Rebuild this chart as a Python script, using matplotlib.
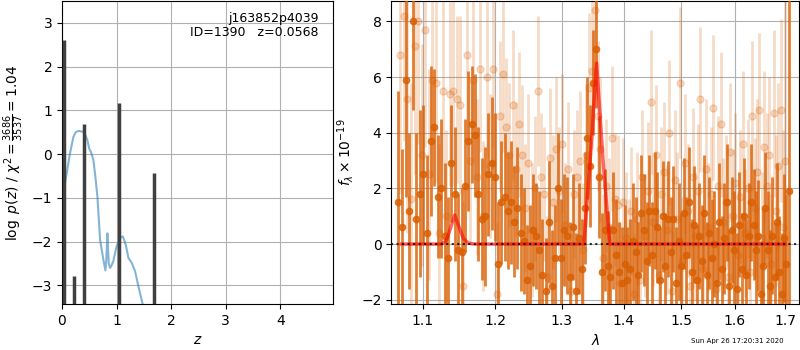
import numpy as np
import matplotlib
matplotlib.use("Agg")
import matplotlib.pyplot as plt
from matplotlib.ticker import ScalarFormatter, NullLocator

# ---- left panel: log p(z) ----
z_grid = [0.0, 0.02, 0.05, 0.086, 0.147, 0.208, 0.25, 0.30, 0.35, 0.39, 0.43,
          0.465, 0.50, 0.527, 0.575, 0.61, 0.649, 0.698, 0.73, 0.759, 0.796,
          0.81, 0.82, 0.832, 0.845, 0.857, 0.88, 0.899, 0.94, 1.0, 1.052,
          1.08, 1.114, 1.15, 1.175, 1.217, 1.279, 1.34, 1.40, 1.48]
logpz = [-1.7, -1.0, -0.7, -0.44, 0.02, 0.39, 0.50, 0.53, 0.52, 0.51, 0.43,
         0.32, 0.12, 0.06, -0.13, -0.5, -0.97, -1.96, -2.2, -2.42, -2.66,
         -2.45, -2.2, -1.81, -2.2, -2.5, -2.6, -2.57, -2.45, -2.11, -1.96,
         -1.9, -1.88, -2.0, -2.11, -2.37, -2.49, -2.68, -3.02, -3.44]

peak_z = [0.037, 0.226, 0.41, 1.052, 1.694]
peak_logp = [2.6, -2.79, 0.69, 1.18, -0.44]

# ---- right panel: spectrum ----
wave_a = [1.0680, 1.0727, 1.0774, 1.0821, 1.0868, 1.0915, 1.0962, 1.1009, 1.1056, 1.1103,
          1.1150, 1.1197, 1.1244, 1.1291, 1.1338, 1.1385, 1.1432, 1.1479, 1.1526, 1.1573,
          1.1620, 1.1667, 1.1714, 1.1761, 1.1808, 1.1855, 1.1902, 1.1949, 1.1996, 1.2043,
          1.2090, 1.2137, 1.2184, 1.2231, 1.2278, 1.2325, 1.2372, 1.2419, 1.2466, 1.2513,
          1.2560, 1.2607, 1.2654, 1.2701, 1.2748, 1.2795, 1.2842, 1.2889, 1.2936, 1.2983,
          1.3030, 1.3077, 1.3124, 1.3171, 1.3218, 1.3265, 1.3312, 1.3359, 1.3406, 1.3453,
          1.3500, 1.3547, 1.3594, 1.3641, 1.3688, 1.3735, 1.3782, 1.3829, 1.3876, 1.3923,
          1.3970, 1.4017, 1.4064, 1.4111, 1.4158, 1.4205, 1.4252, 1.4299, 1.4346, 1.4393,
          1.4440, 1.4487, 1.4534, 1.4581, 1.4628, 1.4675, 1.4722, 1.4769, 1.4816, 1.4863,
          1.4910, 1.4957, 1.5004, 1.5051, 1.5098, 1.5145, 1.5192, 1.5239, 1.5286, 1.5333,
          1.5380, 1.5427, 1.5474, 1.5521, 1.5568, 1.5615, 1.5662, 1.5709, 1.5756, 1.5803,
          1.5850, 1.5897, 1.5944, 1.5991, 1.6038, 1.6085, 1.6132, 1.6179, 1.6226, 1.6273,
          1.6320, 1.6367, 1.6414, 1.6461, 1.6508, 1.6555, 1.6602, 1.6649, 1.6696, 1.6743,
          1.6790, 1.6837, 1.6884, 1.6931, 1.6978, 1.7025, 1.7072]
flux_a = [1.5, 0.6, 5.9, 1.2, 8.0, 0.9, 1.8, 2.5, 0.4, 3.7,
          4.2, 1.7, 2.0, 0.3, -0.5, 2.9, 1.8, -0.2, -0.3, 2.1,
          3.7, 4.3, 3.9, 1.8, 0.9, 1.0, 2.5, 2.9, 2.4, -0.7,
          1.5, 1.7, 1.2, 1.5, 0.8, 1.3, 0.4, 0.1, -1.3, -0.8,
          0.5, 0.3, -0.2, -1.1, -1.7, 0.8, -1.5, -0.5, 2.0, -0.5,
          0.5, 0.3, -1.2, 0.6, -1.7, 0.2, -0.9, 1.3, 3.8, 2.8,
          5.8, 7.0, 2.4, -1.0, 0.5, -0.8, -1.2, 0.5, -0.4, -1.0,
          -1.4, -0.7, -1.3, -0.9, 0.1, -0.3, -1.1, 1.1, 0.5, -0.6,
          1.2, -0.4, 1.2, 0.6, -1.3, 1.0, -0.8, 0.9, -0.3, 0.9,
          -1.4, 0.1, -0.8, 1.1, -0.4, 1.5, -1.0, 0.7, -1.3, 0.3,
          -0.6, 1.1, -1.1, 0.4, -0.5, 0.0, -1.4, 0.8, -0.9, 0.2,
          1.5, -1.5, 0.5, -0.2, -1.6, 0.7, -0.9, 1.0, -1.1, 0.3,
          1.5, 0.7, -0.2, 0.3, -1.8, -0.8, 1.3, -0.2, -1.5, 0.3,
          -1.2, 0.8, -1.0, -1.8, 0.2, -0.7, 1.9]
err_a = [4.0, 2.8, 4.2, 2.8, 3.2, 3.1, 3.0, 2.5, 2.8, 2.7,
         2.1, 2.2, 2.5, 2.6, 2.2, 2.1, 2.4, 2.0, 2.3, 2.4,
         2.5, 2.1, 2.2, 2.4, 2.2, 2.5, 2.2, 2.4, 2.3, 2.2,
         2.2, 2.3, 2.1, 2.2, 2.0, 2.2, 2.1, 1.9, 2.0, 2.2,
         2.0, 1.9, 2.1, 2.0, 1.9, 2.2, 2.0, 1.9, 2.0, 2.1,
         2.0, 2.1, 2.0, 1.9, 2.1, 2.0, 1.8, 2.0, 2.2, 2.2,
         1.9, 2.1, 2.2, 2.1, 2.2, 2.0, 1.9, 2.1, 2.0, 1.8,
         2.0, 2.1, 1.9, 1.8, 2.1, 2.0, 1.9, 2.1, 2.0, 2.1,
         2.0, 1.9, 2.1, 2.0, 1.9, 2.0, 1.9, 2.1, 2.0, 1.9,
         2.0, 2.1, 1.9, 2.0, 2.1, 2.0, 1.9, 2.1, 2.0, 1.9,
         2.0, 2.1, 1.9, 2.0, 2.1, 1.9, 2.0, 2.1, 1.9, 2.0,
         2.1, 2.0, 1.9, 2.1, 2.0, 1.9, 2.0, 2.1, 2.0, 1.9,
         2.1, 2.0, 2.1, 2.0, 1.9, 2.1, 2.0, 2.1, 2.0, 2.1,
         2.0, 2.1, 2.0, 2.2, 2.3, 2.5, 9.0]

wave_b = [1.0703, 1.0750, 1.0797, 1.0844, 1.0891, 1.0938, 1.0985, 1.1032, 1.1079, 1.1126,
          1.1173, 1.1220, 1.1267, 1.1314, 1.1361, 1.1408, 1.1455, 1.1502, 1.1549, 1.1596,
          1.1643, 1.1690, 1.1737, 1.1784, 1.1831, 1.1878, 1.1925, 1.1972, 1.2019, 1.2066,
          1.2113, 1.2160, 1.2207, 1.2254, 1.2301, 1.2348, 1.2395, 1.2442, 1.2489, 1.2536,
          1.2583, 1.2630, 1.2677, 1.2724, 1.2771, 1.2818, 1.2865, 1.2912, 1.2959, 1.3006,
          1.3053, 1.3100, 1.3147, 1.3194, 1.3241, 1.3288, 1.3335, 1.3382, 1.3429, 1.3476,
          1.3523, 1.3570, 1.3617, 1.3664, 1.3711, 1.3758, 1.3805, 1.3852, 1.3899, 1.3946,
          1.3993, 1.4040, 1.4087, 1.4134, 1.4181, 1.4228, 1.4275, 1.4322, 1.4369, 1.4416,
          1.4463, 1.4510, 1.4557, 1.4604, 1.4651, 1.4698, 1.4745, 1.4792, 1.4839, 1.4886,
          1.4933, 1.4980, 1.5027, 1.5074, 1.5121, 1.5168, 1.5215, 1.5262, 1.5309, 1.5356,
          1.5403, 1.5450, 1.5497, 1.5544, 1.5591, 1.5638, 1.5685, 1.5732, 1.5779, 1.5826,
          1.5873, 1.5920, 1.5967, 1.6014, 1.6061, 1.6108, 1.6155, 1.6202, 1.6249, 1.6296,
          1.6343, 1.6390, 1.6437, 1.6484, 1.6531, 1.6578, 1.6625, 1.6672, 1.6719, 1.6766,
          1.6813, 1.6860, 1.6907, 1.6954, 1.7001]
flux_b = [6.8, 8.2, 5.2, 1.6, 7.1, 8.0, 3.2, 7.7, 2.5, 5.9,
          5.8, 0.4, 5.5, 1.0, 5.4, 5.5, 5.2, 5.0, -1.5, 6.8,
          3.0, 5.9, 2.4, 6.3, 1.0, 6.0, 2.8, 6.3, -1.8, 4.6,
          6.1, 4.2, 3.2, 5.0, 2.7, 4.3, 3.2, 1.3, 2.9, 0.5,
          2.0, 5.5, 2.4, 1.8, -1.2, 3.1, 1.5, 3.4, 1.9, 3.6,
          0.7, 2.7, -1.7, 1.8, 2.4, 3.0, -0.2, 3.2, 5.6, 6.2,
          8.4, 4.6, 3.4, -0.5, 2.1, 0.6, 3.8, 1.6, 1.4, -1.4,
          1.5, 0.2, -0.9, 1.2, -1.8, 0.9, -1.3, 2.4, 0.3, 1.9,
          5.1, 0.8, 3.2, -1.1, 1.8, 2.6, 0.5, 4.0, -1.7, 2.3,
          0.9, 5.8, -0.6, 2.9, 1.2, -1.5, 2.4, 0.3, 1.9, 5.2,
          -0.9, 2.7, 0.6, 1.8, 4.9, -1.6, 2.1, 4.3, 0.8, 1.5,
          -1.2, 3.3, 1.0, 2.2, -0.4, 1.7, 3.6, 0.4, 2.0, -1.0,
          4.6, 1.3, 2.6, 4.8, 0.2, 3.5, 2.1, 3.2, -0.7, 4.7,
          1.2, 2.8, 4.8, 0.6, 3.0]
err_b = [5.0, 4.5, 4.8, 4.2, 4.6, 4.4, 4.0, 4.2, 3.8, 3.5,
         3.6, 3.2, 3.4, 3.1, 3.3, 3.4, 3.0, 3.2, 3.0, 3.1,
         3.0, 2.9, 2.8, 3.0, 2.7, 2.9, 2.6, 2.8, 2.6, 2.7,
         2.8, 2.5, 2.6, 2.7, 2.4, 2.6, 2.5, 2.3, 2.5, 2.4,
         2.6, 2.7, 2.3, 2.4, 2.2, 2.5, 2.4, 2.6, 2.3, 2.5,
         2.2, 2.4, 2.1, 2.3, 2.4, 2.5, 2.4, 2.6, 2.7, 2.8,
         2.6, 2.7, 2.6, 2.3, 2.4, 2.5, 2.6, 2.4, 2.5, 2.2,
         2.3, 2.4, 2.5, 2.3, 2.2, 2.4, 2.3, 2.4, 2.2, 2.5,
         2.6, 2.3, 2.5, 2.2, 2.4, 2.5, 2.3, 2.6, 2.2, 2.5,
         2.4, 2.7, 2.3, 2.5, 2.4, 2.3, 2.5, 2.3, 2.4, 2.6,
         2.2, 2.5, 2.3, 2.4, 2.6, 2.2, 2.5, 2.6, 2.3, 2.4,
         2.3, 2.5, 2.4, 2.5, 2.3, 2.4, 2.6, 2.3, 2.5, 2.4,
         2.7, 2.5, 2.6, 2.8, 2.4, 2.7, 2.6, 2.8, 2.5, 3.0,
         2.7, 3.0, 3.3, 3.5, 8.0]

model_wave = [1.072, 1.125, 1.131, 1.137, 1.143, 1.149, 1.155, 1.162, 1.170,
              1.335, 1.345, 1.3554, 1.366, 1.377, 1.700]
model_flux = [0.0, 0.0, 0.1, 0.55, 1.04, 0.6, 0.2, 0.03, 0.0,
              0.0, 3.0, 6.5, 3.0, 0.0, 0.0]

orange = "#d95f02"

fig = plt.figure(figsize=(8, 3.5), dpi=100)
ax1 = fig.add_axes([0.0775, 0.131, 0.339, 0.866])
ax2 = fig.add_axes([0.489, 0.131, 0.510, 0.866])

# left: p(z)
ax1.plot(z_grid, logpz, color="#1f77b4", alpha=0.55, lw=1.5, zorder=2)
ax1.vlines(peak_z, -3.43, peak_logp, color="0.25", lw=2.5, zorder=3)
ax1.set_xlim(0, 4.97)
ax1.set_ylim(-3.43, 3.5)
ax1.set_xticks([0, 1, 2, 3, 4])
ax1.set_yticks([-3, -2, -1, 0, 1, 2, 3])
ax1.grid(True)
ax1.set_axisbelow(True)
ax1.set_xlabel(r"$z$")
ax1.set_ylabel(r"$\log\ p(z)$ / $\chi^2=\frac{3686}{3537}=1.04$")
ax1.text(0.945, 0.965, "j163852p4039\nID=1390   z=0.0568", transform=ax1.transAxes,
         ha="right", va="top", fontsize=9, linespacing=1.1)

# right: spectrum
ax2.errorbar(wave_b, flux_b, yerr=err_b, marker="o", ms=5, ls="none",
             color=orange, alpha=0.22, elinewidth=2.0, zorder=2)
ax2.errorbar(wave_a, flux_a, yerr=err_a, marker="o", ms=4.5, ls="none",
             color=orange, alpha=0.8, elinewidth=2.0, zorder=3)
ax2.plot(model_wave, model_flux, color="r", alpha=0.6, lw=2.5, zorder=4)
ax2.axhline(0, color="k", ls=":", lw=1.5, alpha=0.8, zorder=5)

ax2.set_xscale("log")
ax2.set_xlim(1.059, 1.729)
ax2.set_ylim(-2.16, 8.73)
ax2.set_xticks([1.1, 1.2, 1.3, 1.4, 1.5, 1.6, 1.7])
ax2.xaxis.set_major_formatter(ScalarFormatter())
ax2.xaxis.set_minor_locator(NullLocator())
ax2.set_yticks([-2, 0, 2, 4, 6, 8])
ax2.grid(True)
ax2.set_xlabel(r"$\lambda$")
ax2.set_ylabel(r"$f_\lambda\times10^{-19}$")

fig.text(0.98, 0.018, "Sun Apr 26 17:20:31 2020", ha="right", va="bottom", fontsize=5)

fig.savefig("out.png", dpi=100)
